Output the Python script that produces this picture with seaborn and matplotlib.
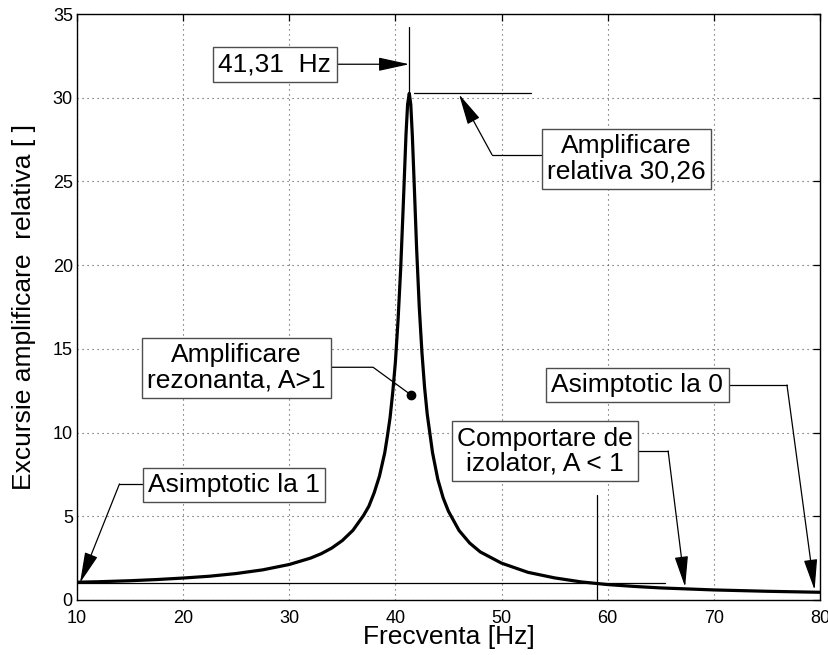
import matplotlib
matplotlib.use("Agg")
import matplotlib.pyplot as plt
import seaborn as sns
import pandas as pd

# ---- data ----
freq = [10, 12, 15, 17.5, 20, 22.5, 25, 27.5, 30, 32, 33, 34, 35, 36, 37, 37.5,
        38, 38.5, 39, 39.25, 39.5, 39.75, 40, 40.25, 40.5, 40.75, 41, 41.15, 41.31,
        41.45, 41.6, 41.8, 42, 42.25, 42.5, 42.75, 43, 43.5, 44, 44.5, 45, 46, 47,
        48, 50, 52.5, 55, 57.5, 60, 62.5, 65, 67.5, 70, 72.5, 75, 77.5, 80]
amp = [1.06, 1.09, 1.15, 1.22, 1.31, 1.42, 1.58, 1.8, 2.12, 2.5, 2.76, 3.1, 3.55,
       4.16, 5.05, 5.6, 6.4, 7.4, 8.8, 9.8, 10.9, 12.4, 14.2, 16.7, 19.8, 23.7,
       27.8, 29.6, 30.26, 29.6, 27.7, 24.4, 21.0, 17.5, 14.8, 12.7, 11.1, 8.8,
       7.2, 6.1, 5.3, 4.15, 3.4, 2.87, 2.2, 1.65, 1.32, 1.08, 0.92, 0.81, 0.72,
       0.66, 0.6, 0.56, 0.52, 0.49, 0.46]
x_ticks = [10, 20, 30, 40, 50, 60, 70, 80]
y_ticks = [0, 5, 10, 15, 20, 25, 30, 35]
peak_f = 41.31
peak_a = 30.26
iso_f = 58.96

df = pd.DataFrame({"f": freq, "A": amp})

sns.set_theme(style="white")
plt.rcParams["font.family"] = ["Liberation Sans", "DejaVu Sans"]
plt.rcParams["text.color"] = "black"
plt.rcParams["axes.labelcolor"] = "black"

fig = plt.figure(figsize=(8.29, 6.55), dpi=100)
ax = fig.add_axes([0.0929, 0.0840, 0.8961, 0.8946])

sns.lineplot(data=df, x="f", y="A", ax=ax, color="black", linewidth=2.3, zorder=5)

ax.set_xlim(10, 80)
ax.set_ylim(0, 35)
ax.set_xticks(x_ticks)
ax.set_yticks(y_ticks)
ax.grid(True, color="0.3", linestyle=(0, (1, 3.5)), linewidth=0.8)
ax.tick_params(direction="in", length=5, width=0.9, top=True, right=True,
               labelsize=13, colors="black")
ax.tick_params(axis="x", pad=7)
ax.tick_params(axis="y", pad=3)
for s in ax.spines.values():
    s.set_color("black")
    s.set_linewidth(1.0)

ax.set_xlabel("Frecventa [Hz]", fontsize=19, labelpad=-1, color="black")
ax.set_ylabel("Excursie amplificare  relativa [ ]", fontsize=19, labelpad=12, color="black")

thin = dict(color="black", linewidth=0.9)
box = dict(boxstyle="square,pad=0.2", facecolor="white", edgecolor="0.3", linewidth=1.0)
fs = 19

def arrow(tip, start):
    ax.annotate("", xy=tip, xytext=start,
                arrowprops=dict(arrowstyle="-|>,head_length=1.6,head_width=0.35",
                                mutation_scale=12, color="black", lw=0.9,
                                shrinkA=0, shrinkB=0), zorder=6)

# reference lines
ax.plot([peak_f, peak_f], [peak_a, 34.2], zorder=4, **thin)
ax.plot([41.8, 52.8], [peak_a, peak_a], zorder=4, **thin)
ax.plot([10, 65.4], [1, 1], zorder=4, **thin)
ax.plot([iso_f, iso_f], [0, 6.3], zorder=4, **thin)

# 41,31 Hz
ax.text(28.65, 32.0, "41,31  Hz", fontsize=fs, ha="center", va="center", bbox=box,
        zorder=8, color="black")
ax.plot([28.65, 34.4], [32.0, 32.0], zorder=3, **thin)
arrow((peak_f, 32.0), (34.4, 32.0))

# Amplificare relativa
ax.text(61.8, 26.35, "Amplificare\nrelativa 30,26", fontsize=fs, ha="center", va="center",
        bbox=box, zorder=8, linespacing=1.05, color="black")
ax.plot([61.8, 49.1], [26.6, 26.6], zorder=3, **thin)
arrow((46.0, 30.2), (49.1, 26.6))

# Amplificare rezonanta
ax.text(25.0, 13.86, "Amplificare\nrezonanta, A>1", fontsize=fs, ha="center", va="center",
        bbox=box, zorder=8, linespacing=1.05, color="black")
ax.plot([25.0, 37.9, 41.47], [13.9, 13.9, 12.25], zorder=3, **thin)
ax.plot([41.47], [12.25], "o", color="black", markersize=6, zorder=7)

# Asimptotic la 1
ax.text(24.8, 6.87, "Asimptotic la 1", fontsize=fs, ha="center", va="center", bbox=box,
        zorder=8, color="black")
ax.plot([24.8, 14.0], [6.93, 6.93], zorder=3, **thin)
arrow((10.28, 1.02), (14.0, 6.93))

# Comportare de izolator
ax.text(54.1, 8.9, "Comportare de\nizolator, A < 1", fontsize=fs, ha="center", va="center",
        bbox=box, zorder=8, linespacing=1.05, color="black")
ax.plot([54.1, 65.7], [8.9, 8.9], zorder=3, **thin)
arrow((67.3, 0.78), (65.7, 8.9))

# Asimptotic la 0
ax.text(62.8, 12.84, "Asimptotic la 0", fontsize=fs, ha="center", va="center", bbox=box,
        zorder=8, color="black")
ax.plot([62.8, 76.9], [12.84, 12.84], zorder=3, **thin)
arrow((79.5, 0.6), (76.9, 12.84))

fig.savefig("out.png", dpi=100)
